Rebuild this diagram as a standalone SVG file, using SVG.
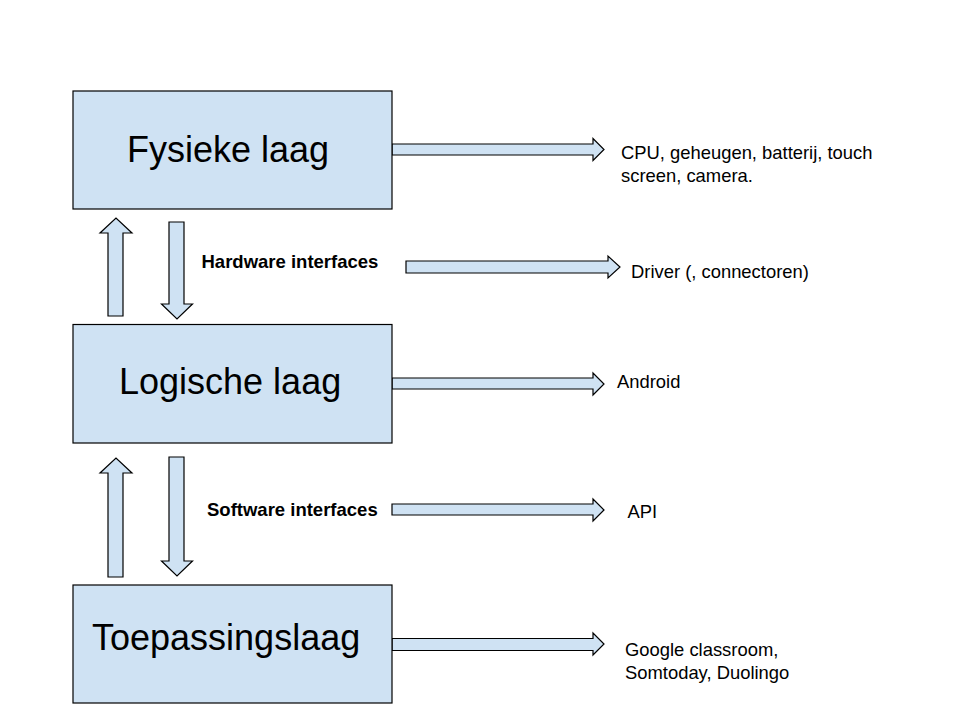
<svg xmlns="http://www.w3.org/2000/svg" width="960" height="720" viewBox="0 0 960 720">
<style>
.box{fill:#cfe2f3;stroke:#000;stroke-width:1.2}
.arr{fill:#cfe2f3;stroke:#000;stroke-width:1.2;stroke-linejoin:miter}
.title{font-family:"Liberation Sans",Arial,sans-serif;font-size:36px;fill:#000}
.lbl{font-family:"Liberation Sans",Arial,sans-serif;font-size:18.4px;fill:#000}
.blbl{font-family:"Liberation Sans",Arial,sans-serif;font-size:18.5px;font-weight:bold;fill:#000}
</style>
<rect width="960" height="720" fill="#fff"/>
<g id="connectors">
<path class="arr" d="M108,316 V233 H100 L116,218 L132,233 H123 V316 Z"/>
<path class="arr" d="M169,222 H184 V304 H192.5 L177,319 L161.5,304 H169 Z"/>
<path class="arr" d="M108,577 V473 H100 L116,458 L132,473 H123 V577 Z"/>
<path class="arr" d="M169,457 H184 V561 H192.5 L177,576 L161.5,561 H169 Z"/>
<path class="arr" d="M392,144 H593 V138.5 L604,149.5 L593,160.5 V155 H392 Z"/>
<path class="arr" d="M406,261 H608 V256 L620,267 L608,278 V273 H406 Z"/>
<path class="arr" d="M392,378 H593 V373 L604,384 L593,395 V389 H392 Z"/>
<path class="arr" d="M392,504 H593 V499 L604,510 L593,521 V515 H392 Z"/>
<path class="arr" d="M392,638.5 H593 V633 L604,644 L593,655 V650.5 H392 Z"/>
</g>
<g id="fysieke">
<rect class="box" x="73" y="91" width="319" height="118"/>
<text class="title" x="127" y="162">Fysieke laag</text>
</g>
<g id="logische">
<rect class="box" x="73" y="324.5" width="319" height="118.5"/>
<text class="title" x="119" y="394">Logische laag</text>
</g>
<g id="toepassing">
<rect class="box" x="73" y="585" width="319" height="118"/>
<text class="title" x="92" y="650">Toepassingslaag</text>
</g>
<g id="hardware-label">
<text class="blbl" x="201.5" y="268">Hardware interfaces</text>
</g>
<g id="software-label">
<text class="blbl" x="207" y="515.5">Software interfaces</text>
</g>
<g id="cpu">
<text class="lbl" x="621" y="158.5">CPU, geheugen, batterij, touch</text>
<text class="lbl" x="621" y="181.5">screen, camera.</text>
</g>
<g id="driver">
<text class="lbl" x="631" y="277.5">Driver (, connectoren)</text>
</g>
<g id="android">
<text class="lbl" x="617" y="387.5">Android</text>
</g>
<g id="api">
<text class="lbl" x="627.5" y="518">API</text>
</g>
<g id="apps">
<text class="lbl" x="625" y="656">Google classroom,</text>
<text class="lbl" x="625" y="679">Somtoday, Duolingo</text>
</g>
</svg>
